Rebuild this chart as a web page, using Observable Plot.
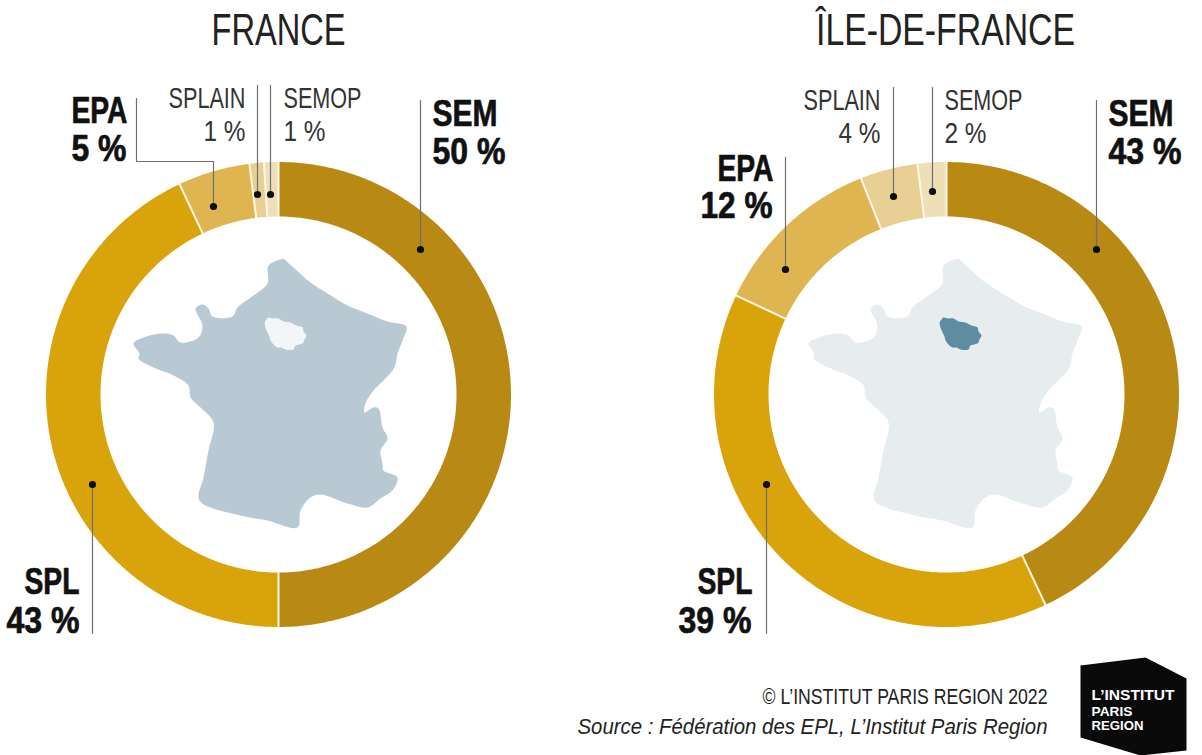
<!DOCTYPE html>
<html lang="fr">
<head>
<meta charset="utf-8">
<title>Répartition des EPL</title>
<style>
html,body{margin:0;padding:0;background:#fff}
svg{display:block}
</style>
<script src="https://cdn.jsdelivr.net/npm/d3@7"></script>
<script src="https://cdn.jsdelivr.net/npm/@observablehq/plot@0.6"></script>
</head>
<body>
<script>
// --- data ---
const categories = ["SEM", "SPL", "EPA", "SPLAIN", "SEMOP"];
const franceValues = [50, 43, 5, 1, 1];
const idfValues = [43, 39, 12, 4, 2];
const categoryColors = ["#b88a13", "#d9a40b", "#dfb552", "#e8cf93", "#efdfb9"];

const franceOutline = [[283,258],[293,267],[310,282],[327,293],[347,305],[367,313],[387,321],[406,326],[402,340],[397,353],[394,367],[383,380],[373,390],[365,403],[364,412],[373,407],[378,408],[382,427],[387,438],[380,450],[382,463],[383,470],[397,477],[392,490],[380,498],[367,507],[347,503],[320,494],[310,497],[300,510],[297,527],[267,520],[240,515],[199,500],[203,477],[208,450],[213,422],[200,407],[190,397],[188,385],[173,375],[153,367],[138,358],[139,353],[133,343],[143,337],[162,333],[173,335],[180,342],[198,337],[202,325],[195,308],[202,304],[208,308],[212,316],[232,316],[237,307],[253,295],[267,283],[268,265],[283,258]];
const idfOutline = [[264,322],[266,319],[268,317],[273,318],[278,318],[283,321],[290,322],[296,325],[302,327],[303,331],[306,335],[304,339],[303,342],[299,344],[295,345],[293,349],[285,349],[281,347],[277,347],[273,344],[270,340],[269,336],[267,332],[265,327],[264,322]];

// --- layout (pixels = scale units) ---
const W = 1202, H = 755;
const rings = [
  {name: "France", cx: 278, values: franceValues, mapDx: 0, mapFill: "#b9c9d3", idfFill: "#f3f5f7"},
  {name: "IDF", cx: 946, values: idfValues, mapDx: 675, mapFill: "#e7ecef", idfFill: "#5f8ca1"}
];
const cy = 394, rOuter = 232.5, rInner = 178;

const arcPoint = (cx, a, r) => [cx + r * Math.sin(a), cy - r * Math.cos(a)];
const segments = [], separators = [];
for (const ring of rings) {
  let acc = 0;
  ring.values.forEach((v, i) => {
    const a0 = acc / 100 * 2 * Math.PI, a1 = (acc + v) / 100 * 2 * Math.PI;
    const n = Math.max(2, Math.ceil(v * 3.6));
    for (let k = 0; k <= n; k++) {
      const [x, y] = arcPoint(ring.cx, a0 + (a1 - a0) * k / n, (rOuter + rInner) / 2);
      segments.push({slice: ring.name + categories[i], category: categories[i], x, y});
    }
    const [x1, y1] = arcPoint(ring.cx, a0, rInner - 1);
    const [x2, y2] = arcPoint(ring.cx, a0, rOuter + 1);
    separators.push({x1, y1, x2, y2});
    acc += v;
  });
}

const maps = rings.flatMap(r => [
  {pts: franceOutline.map(([x, y]) => ({x: x + r.mapDx, y})), fill: r.mapFill},
  {pts: idfOutline.map(([x, y]) => ({x: x + r.mapDx, y})), fill: r.idfFill}
]);

const leaders = [
  {id: "a", pts: [[420,100],[420,249]]},
  {id: "b", pts: [[136,98],[136,161],[213,161],[213,206]]},
  {id: "c", pts: [[257,85],[257,194]]},
  {id: "d", pts: [[270,85],[270,194]]},
  {id: "e", pts: [[92,484],[92,633]]},
  {id: "f", pts: [[1096,100],[1096,249]]},
  {id: "g", pts: [[785,157],[785,269]]},
  {id: "h", pts: [[893,87],[893,196]]},
  {id: "i", pts: [[932,87],[932,191]]},
  {id: "j", pts: [[766,484],[766,633]]}
];
const leaderPts = leaders.flatMap(l => l.pts.map(([x, y]) => ({id: l.id, x, y})));
const dots = [[420,249],[213,206],[257,194],[270,194],[92,484],[1096,249],[785,269],[893,196],[932,191],[766,484]].map(([x, y]) => ({x, y}));

const big = [
  ["SEM", 432, 125, "start"], ["50 %", 432, 163, "start"],
  ["EPA", 127, 122, "end"], ["5 %", 126, 160, "end"],
  ["SPL", 79, 593, "end"], ["43 %", 79, 632, "end"],
  ["SEM", 1108, 125, "start"], ["43 %", 1108, 163, "start"],
  ["EPA", 773, 180, "end"], ["12 %", 772, 217, "end"],
  ["SPL", 752, 593, "end"], ["39 %", 751, 632, "end"]
].map(([t, x, y, a]) => ({t, x, y, a}));
const small = [
  ["SPLAIN", 245, 107, "end"], ["1 %", 245, 140, "end"],
  ["SEMOP", 283, 107, "start"], ["1 %", 283, 140, "start"],
  ["SPLAIN", 880, 109, "end"], ["4 %", 880, 142, "end"],
  ["SEMOP", 944, 109, "start"], ["2 %", 944, 142, "start"]
].map(([t, x, y, a]) => ({t, x, y, a}));
const titles = [{t: "FRANCE", x: 278}, {t: "ÎLE-DE-FRANCE", x: 945}];
const logo = [[1080,665],[1145,657],[1186,678],[1186,750],[1140,755],[1080,737]].map(([x, y]) => ({x, y}));

// condensed look: target rendered width of each string
const textWidths = {
  "FRANCE": 134, "ÎLE-DE-FRANCE": 259, "SEM": 65, "50 %": 73, "EPA": 56, "5 %": 55,
  "SPL": 55, "43 %": 73, "12 %": 72, "39 %": 73, "SPLAIN": 77, "SEMOP": 78,
  "1 %": 42, "4 %": 42, "2 %": 42,
  "© L’INSTITUT PARIS REGION 2022": 285,
  "Source : Fédération des EPL, L’Institut Paris Region": 470,
  "L’INSTITUT": 83, "PARIS": 41, "REGION": 52
};

const FONT = "Liberation Sans";
const textSet = (data, size, weight, fill, o = {}) => ["start", "end"].map(a =>
  Plot.text(data.filter(d => d.a === a), {x: "x", y: "y", text: "t", textAnchor: a, lineAnchor: "bottom",
    fontFamily: FONT, fontSize: size, fontWeight: weight, fill, ...o}));
const line1 = (t, x, y, a, size, o = {}) => Plot.text([{t, x, y}], {x: "x", y: "y", text: "t", textAnchor: a, lineAnchor: "bottom", fontFamily: FONT, fontSize: size, fill: "#222", ...o});

const chart = Plot.plot({
  width: W, height: H, margin: 0,
  x: {domain: [0, W], range: [0, W], axis: null},
  y: {domain: [0, H], range: [0, H], axis: null},
  color: {domain: categories, range: categoryColors},
  style: {background: "#fff"},
  marks: [
    ...maps.map(m => Plot.line(m.pts, {x: "x", y: "y", fill: m.fill, stroke: "none", curve: "catmull-rom"})),
    Plot.line(segments, {x: "x", y: "y", z: "slice", stroke: "category", strokeWidth: rOuter - rInner, strokeLinecap: "butt", strokeLinejoin: "bevel"}),
    Plot.link(separators, {x1: "x1", y1: "y1", x2: "x2", y2: "y2", stroke: "#fff8e8", strokeWidth: 2}),
    Plot.line(leaderPts, {x: "x", y: "y", z: "id", stroke: "#6f6f6f", strokeWidth: 1.2, strokeLinejoin: "miter"}),
    Plot.dot(dots, {x: "x", y: "y", r: 3.6, fill: "#0b0b0b", stroke: "none"}),
    ...textSet(big, 36, 700, "#111", {stroke: "#111", strokeWidth: 0.7}),
    ...textSet(small, 30, 400, "#333"),
    Plot.text(titles, {x: "x", y: () => 44, text: "t", textAnchor: "middle", lineAnchor: "bottom", fontFamily: FONT, fontSize: 45, fill: "#222"}),
    line1("© L’INSTITUT PARIS REGION 2022", 1047, 703, "end", 22),
    line1("Source : Fédération des EPL, L’Institut Paris Region", 1047, 733, "end", 22, {fontStyle: "italic"}),
    Plot.line(logo, {x: "x", y: "y", fill: "#0a0a0a", stroke: "none"}),
    line1("L’INSTITUT", 1091, 699, "start", 15, {fill: "#fff", fontWeight: 700}),
    line1("PARIS", 1091, 715, "start", 12, {fill: "#fff", fontWeight: 700}),
    line1("REGION", 1091, 729, "start", 12, {fill: "#fff", fontWeight: 700})
  ]
});
document.body.appendChild(chart);
chart.querySelectorAll("text").forEach(el => {
  const w = textWidths[el.textContent.trim()];
  if (w) { el.setAttribute("textLength", w); el.setAttribute("lengthAdjust", "spacingAndGlyphs"); }
});
</script>
</body>
</html>
